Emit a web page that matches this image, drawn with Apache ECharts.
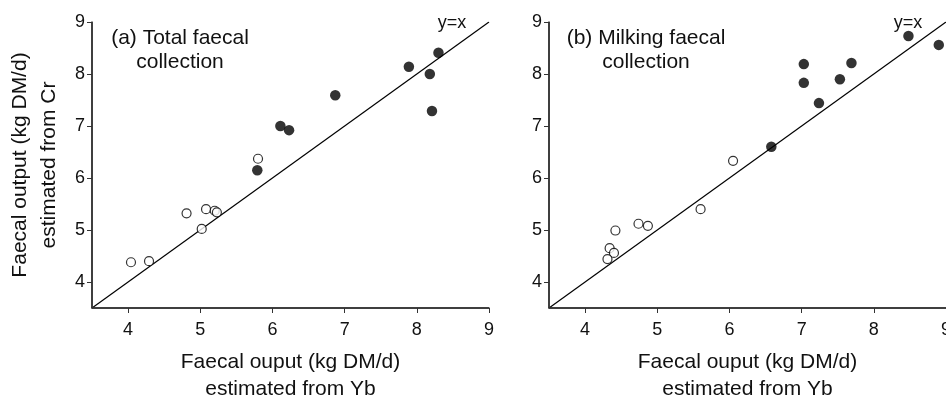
<!DOCTYPE html>
<html>
<head>
<meta charset="utf-8">
<script src="https://cdn.jsdelivr.net/npm/echarts@6/dist/echarts.min.js"></script>
<style>
  html, body { margin: 0; padding: 0; background: #fff; }
  #chart { width: 946px; height: 397px; }
</style>
</head>
<body>
<div id="chart"></div>
<script>
// (a) total faecal collection: [Yb estimate, Cr estimate]
var totalFilled = [
  [5.79, 6.15], [6.11, 7.00], [6.23, 6.92], [6.87, 7.59],
  [7.89, 8.14], [8.18, 8.00], [8.21, 7.29], [8.30, 8.41]
];
var totalOpen = [
  [5.80, 6.37], [4.04, 4.38], [4.29, 4.40], [4.81, 5.32],
  [5.08, 5.40], [5.02, 5.02], [5.20, 5.37], [5.23, 5.34]
];
// (b) milking faecal collection
var milkFilled = [
  [6.58, 6.60], [7.03, 8.19], [7.03, 7.83], [7.24, 7.44],
  [7.53, 7.90], [7.69, 8.21], [8.48, 8.73], [8.90, 8.56]
];
var milkOpen = [
  [6.05, 6.33], [5.60, 5.40], [4.74, 5.12], [4.87, 5.08],
  [4.42, 4.99], [4.34, 4.65], [4.40, 4.56], [4.31, 4.44]
];
var identityLine = [[3.5, 3.5], [9, 9]];
var tickValues = [4, 5, 6, 7, 8, 9];
var axisMin = 3.5;

var font = 'Liberation Sans, Arial, sans-serif';
var axisColor = '#333';

function makeAxis(gridIndex, isX, name) {
  return {
    type: 'value',
    gridIndex: gridIndex,
    min: axisMin,
    max: 9,
    name: name || '',
    nameLocation: 'middle',
    nameGap: isX ? 41 : 28,
    nameTextStyle: { fontFamily: font, fontSize: 21, color: '#111', lineHeight: isX ? 27 : 29 },
    splitLine: { show: false },
    axisLine: { show: true, lineStyle: { color: axisColor, width: 1.5 } },
    axisTick: { show: true, length: 5, customValues: tickValues, lineStyle: { color: axisColor, width: 1 } },
    axisLabel: {
      customValues: tickValues,
      fontFamily: font,
      fontSize: 18,
      color: '#111',
      margin: isX ? 13 : 7
    }
  };
}

function filled(xi, data) {
  return {
    type: 'scatter', xAxisIndex: xi, yAxisIndex: xi, data: data,
    symbol: 'circle', symbolSize: 10.5,
    itemStyle: { color: '#000' }, silent: true
  };
}
function hollow(xi, data) {
  return {
    type: 'scatter', xAxisIndex: xi, yAxisIndex: xi, data: data,
    symbol: 'circle', symbolSize: 9,
    itemStyle: { color: '#fff', borderColor: '#000', borderWidth: 1.2 }, silent: true
  };
}
// y=x line, plus the two axis lines drawn through the scales as a fallback
function ident(xi) {
  return {
    type: 'line', xAxisIndex: xi, yAxisIndex: xi, data: identityLine,
    showSymbol: false, silent: true, z: 1,
    lineStyle: { color: '#000', width: 1.2 },
    markLine: {
      silent: true, symbol: 'none', animation: false,
      label: { show: false },
      lineStyle: { color: axisColor, width: 1.5, type: 'solid' },
      data: [{ xAxis: axisMin }, { yAxis: axisMin }]
    }
  };
}

var chart = echarts.init(document.getElementById('chart'), null, { renderer: 'canvas' });
chart.setOption({
  animation: false,
  grid: [
    { left: 92, top: 22, width: 397, height: 286, containLabel: false, outerBoundsMode: 'none' },
    { left: 549, top: 22, width: 397, height: 286, containLabel: false, outerBoundsMode: 'none' }
  ],
  xAxis: [
    makeAxis(0, true, 'Faecal ouput (kg DM/d)\nestimated from Yb'),
    makeAxis(1, true, 'Faecal ouput (kg DM/d)\nestimated from Yb')
  ],
  yAxis: [
    makeAxis(0, false, 'Faecal output (kg DM/d)\nestimated from Cr'),
    makeAxis(1, false, '')
  ],
  graphic: [
    { type: 'text', x: 180, y: 26, style: { text: '(a) Total faecal\ncollection', font: '21px ' + font, fill: '#111', textAlign: 'center', lineHeight: 24 } },
    { type: 'text', x: 646, y: 26, style: { text: '(b) Milking faecal\ncollection', font: '21px ' + font, fill: '#111', textAlign: 'center', lineHeight: 24 } },
    { type: 'text', x: 452, y: 14, style: { text: 'y=x', font: '18px ' + font, fill: '#111', textAlign: 'center' } },
    { type: 'text', x: 908, y: 14, style: { text: 'y=x', font: '18px ' + font, fill: '#111', textAlign: 'center' } }
  ],
  series: [
    ident(0), filled(0, totalFilled), hollow(0, totalOpen),
    ident(1), filled(1, milkFilled), hollow(1, milkOpen)
  ]
});
</script>
</body>
</html>
